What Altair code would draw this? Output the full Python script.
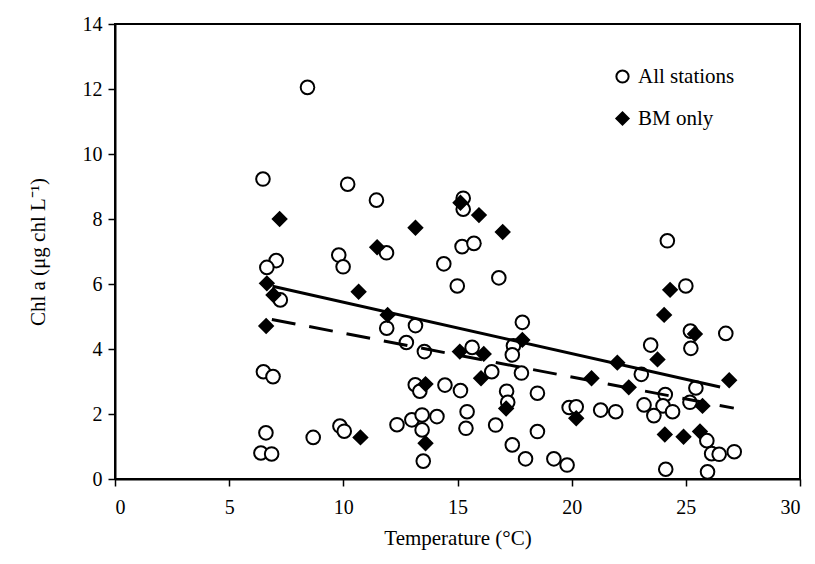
import altair as alt
import pandas as pd

# All stations (open circles)
all_x = [8.43, 6.48, 10.19, 11.45, 15.25, 15.25, 15.2, 15.72, 14.4, 14.99, 16.81, 24.19, 25.0,
         7.06, 6.65, 7.24, 9.8, 9.99, 11.89, 11.9, 12.76, 13.16, 13.55, 6.5, 6.92, 6.61, 6.39,
         6.86, 8.68, 9.85, 10.04, 12.35, 13.0, 13.45, 14.1, 13.45, 13.5, 13.15, 13.35, 14.45,
         15.13, 15.64, 16.5, 17.84, 17.45, 17.4, 17.8, 17.15, 17.2, 18.5, 15.42, 15.37, 16.67,
         17.4, 17.98, 18.5, 19.22, 19.8, 19.89, 20.2, 21.27, 21.93, 23.05, 23.46, 25.2, 25.22,
         26.75, 25.44, 24.1, 23.17, 24.0, 24.42, 23.6, 25.18, 25.92, 26.13, 26.46, 27.12,
         24.12, 25.95]
all_y = [12.05, 9.23, 9.07, 8.58, 8.64, 8.3, 7.15, 7.25, 6.62, 5.94, 6.19, 7.33, 5.94,
         6.72, 6.51, 5.51, 6.89, 6.53, 6.96, 4.64, 4.2, 4.72, 3.92, 3.3, 3.15, 1.42, 0.8,
         0.77, 1.28, 1.63, 1.47, 1.67, 1.82, 1.97, 1.92, 1.51, 0.55, 2.9, 2.7, 2.89,
         2.72, 4.05, 3.3, 4.82, 4.1, 3.82, 3.26, 2.7, 2.36, 2.64, 2.07, 1.56, 1.66,
         1.05, 0.62, 1.46, 0.62, 0.43, 2.2, 2.22, 2.12, 2.07, 3.22, 4.12, 4.55, 4.02,
         4.48, 2.8, 2.6, 2.28, 2.25, 2.07, 1.95, 2.36, 1.18, 0.78, 0.76, 0.84,
         0.3, 0.22]

# BM only (filled diamonds)
bm_x = [7.21, 6.65, 6.94, 6.62, 10.67, 11.48, 11.94, 10.75, 13.16, 15.13, 15.94, 16.98,
        13.6, 13.6, 15.1, 16.15, 16.03, 17.84, 17.13, 20.87, 22.0, 22.5, 20.2, 24.31,
        24.05, 25.4, 23.76, 26.9, 25.73, 24.08, 24.9, 25.62]
bm_y = [8.0, 6.02, 5.66, 4.71, 5.76, 7.13, 5.05, 1.28, 7.73, 8.5, 8.12, 7.6,
        2.92, 1.1, 3.92, 3.85, 3.1, 4.28, 2.17, 3.1, 3.58, 2.82, 1.87, 5.82,
        5.05, 4.46, 3.68, 3.04, 2.25, 1.37, 1.3, 1.46]

# Fitted lines (end points)
solid_x = [6.9, 26.5]
solid_y = [5.93, 2.83]
dash_x = [6.87, 27.1]
dash_y = [4.91, 2.18]

series_names = ["All stations", "BM only"]

pts = pd.DataFrame({
    "T": all_x + bm_x,
    "C": all_y + bm_y,
    "s": [series_names[0]] * len(all_x) + [series_names[1]] * len(bm_x),
})
solid = pd.DataFrame({"T": solid_x, "C": solid_y})
dash = pd.DataFrame({"T": dash_x, "C": dash_y})

FONT = "Liberation Serif"

xsc = alt.Scale(domain=[0, 30], nice=False, zero=False)
ysc = alt.Scale(domain=[0, 14], nice=False, zero=False)

xax = alt.Axis(values=[0, 5, 10, 15, 20, 25, 30], title="Temperature (°C)", grid=False,
               tickSize=7, labelPadding=11, titlePadding=10)
yax = alt.Axis(values=[0, 2, 4, 6, 8, 10, 12, 14], title="Chl a (μg chl L⁻¹)", grid=False,
               tickSize=7, labelPadding=6, titlePadding=34)

leg = alt.Legend(title=None, orient="none", legendX=497, legendY=42,
                 labelFont=FONT, labelFontSize=21, labelColor="black",
                 symbolSize=150, symbolStrokeWidth=2, rowPadding=20,
                 labelOffset=5, padding=0)

points = alt.Chart(pts).mark_point(filled=False, strokeWidth=2, opacity=1).encode(
    x=alt.X("T:Q", scale=xsc, axis=xax),
    y=alt.Y("C:Q", scale=ysc, axis=yax),
    shape=alt.Shape("s:N", scale=alt.Scale(domain=series_names, range=["circle", "diamond"]),
                    legend=leg),
    fill=alt.Fill("s:N", scale=alt.Scale(domain=series_names, range=["white", "black"]),
                  legend=leg),
    size=alt.value(185),
    stroke=alt.value("black"),
)

line_solid = alt.Chart(solid).mark_line(color="black", strokeWidth=3).encode(
    x=alt.X("T:Q", scale=xsc), y=alt.Y("C:Q", scale=ysc))
line_dash = alt.Chart(dash).mark_line(color="black", strokeWidth=3, strokeDash=[24, 14]).encode(
    x=alt.X("T:Q", scale=xsc), y=alt.Y("C:Q", scale=ysc))

chart = alt.layer(points, line_dash, line_solid).properties(
    width=685, height=455,
    background="white",
    autosize=alt.AutoSizeParams(type="none"),
    padding={"left": 107, "top": 16, "right": 7, "bottom": 77},
).configure_view(
    stroke="black", strokeWidth=2
).configure_axis(
    labelFont=FONT, labelFontSize=20, labelColor="black",
    titleFont=FONT, titleFontSize=21, titleColor="black", titleFontWeight="normal",
    domainColor="black", domainWidth=2, tickColor="black", tickWidth=1.5,
)

chart.save("out.html", embed_options={"renderer": "svg", "actions": False})
